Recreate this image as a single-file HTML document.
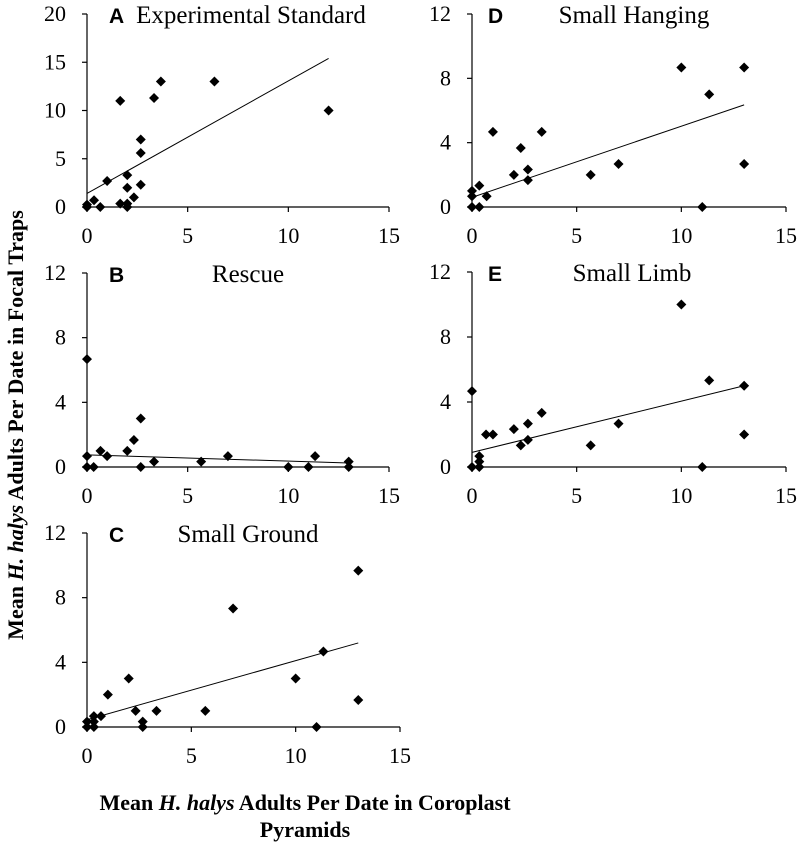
<!DOCTYPE html>
<html><head><meta charset="utf-8"><style>
html,body{margin:0;padding:0;background:#fff;}
svg{display:block;font-family:"Liberation Serif",serif;}
</style></head><body>
<svg id="chart" width="800" height="849" viewBox="0 0 800 849"></svg>
<script>
const panelIds=['A','B','C','D','E'];
const panelTitles=['Experimental Standard','Rescue','Small Ground','Small Hanging','Small Limb'];
const yMaxes=[20,12,12,12,12];
const yTickSets=[[0,5,10,15,20],[0,4,8,12],[0,4,8,12],[0,4,8,12],[0,4,8,12]];
const xTicks=[0,5,10,15];
const aX=[0,0,0.35,0.66,1,1.65,1.65,2,2,2,2,2.33,2.67,2.67,2.67,3.33,3.67,6.33,12];
const aY=[0.25,0,0.7,0,2.7,11,0.35,3.3,2,0.35,0,1,7,5.6,2.3,11.3,13,13,10];
const aFit=[[0,1.4],[12,15.4]];
const bX=[0,0,0,0.33,0.67,1,2,2.33,2.67,2.67,3.33,5.67,7,10,11,11.33,13,13];
const bY=[6.67,0.67,0,0,1,0.67,1,1.67,3,0,0.33,0.33,0.67,0,0,0.67,0.33,0];
const bFit=[[0,0.75],[13,0.25]];
const cX=[0,0,0.33,0.33,0.33,0.67,1,2,2.33,2.67,2.67,3.33,5.67,7,10,11,11.33,13,13];
const cY=[0,0.33,0,0.33,0.67,0.67,2,3,1,0.33,0,1,1,7.33,3,0,4.67,9.67,1.67];
const cFit=[[0,0.45],[13,5.2]];
const dX=[0,0,0,0.35,0.35,0.7,1,2,2.33,2.67,2.67,3.33,5.67,7,10,11,11.33,13,13];
const dY=[0,0.67,1,0,1.33,0.67,4.67,2,3.67,2.33,1.67,4.67,2,2.67,8.67,0,7,8.67,2.67];
const dFit=[[0,0.6],[13,6.35]];
const eX=[0,0,0.35,0.35,0.35,0.67,1,2,2.33,2.67,2.67,3.33,5.67,7,10,11,11.33,13,13];
const eY=[0,4.67,0,0.33,0.67,2,2,2.33,1.33,2.67,1.67,3.33,1.33,2.67,10,0,5.33,5,2];
const eFit=[[0,0.9],[13,5]];

const svg=document.getElementById('chart');
const NS='http://www.w3.org/2000/svg';
function mk(tag,attrs,parent){const e=document.createElementNS(NS,tag);for(const k in attrs)e.setAttribute(k,attrs[k]);parent.appendChild(e);return e;}

const boxes=[
 {x0:87,x1:389,y0:207,y1:14,tc:251},
 {x0:87,x1:389,y0:467,y1:273,tc:248},
 {x0:87,x1:400,y0:727,y1:533,tc:248},
 {x0:472,x1:786,y0:207,y1:14,tc:634},
 {x0:472,x1:786,y0:467,y1:272,tc:632}
];
const xs=[aX,bX,cX,dX,eX], ys=[aY,bY,cY,dY,eY], fits=[aFit,bFit,cFit,dFit,eFit];

panelIds.forEach((id,i)=>{
  const b=boxes[i];
  const sx=v=>b.x0+(b.x1-b.x0)*v/15;
  const sy=v=>b.y0-(b.y0-b.y1)*v/yMaxes[i];
  const g=mk('g',{},svg);
  
  
  const ax=mk('line',{x1:b.x0,y1:b.y1,x2:b.x0,y2:b.y0,stroke:'#000','stroke-width':1.2},g);
  
  
  const ax2=mk('line',{x1:b.x0,y1:b.y0,x2:b.x1,y2:b.y0,stroke:'#000','stroke-width':1.2},g);
  
  
  yTickSets[i].forEach(t=>{
    const y=sy(t);
    mk('line',{x1:b.x0-5,y1:y,x2:b.x0,y2:y,stroke:'#000','stroke-width':1.2},g);
    const tx=mk('text',{x:b.x0-21,y:y+7,'text-anchor':'end','font-size':22,fill:'#000'},g);
    tx.textContent=t;
    
    
  });
  xTicks.forEach(t=>{
    const x=sx(t);
    mk('line',{x1:x,y1:b.y0,x2:x,y2:b.y0+5,stroke:'#000','stroke-width':1.2},g);
    const tx=mk('text',{x:x,y:b.y0+36,'text-anchor':'middle','font-size':22,fill:'#000'},g);
    tx.textContent=t;
    
    
  });
  const f=fits[i];
  const fl=mk('line',{x1:sx(f[0][0]),y1:sy(f[0][1]),x2:sx(f[1][0]),y2:sy(f[1][1]),stroke:'#000','stroke-width':1},g);
  
  
  xs[i].forEach((xv,j)=>{
    const cx=sx(xv), cy=sy(ys[i][j]);
    const p=mk('path',{d:`M${cx},${cy-5}L${cx+5},${cy}L${cx},${cy+5}L${cx-5},${cy}Z`,fill:'#000'},g);
    
    
  });
  const lt=mk('text',{x:b.x0+(i<3?22:16),y:b.y1+9,'font-size':21,'font-weight':'bold','font-family':'Liberation Sans, sans-serif',fill:'#000'},g);
  lt.textContent=id;
  
  
  const tt=mk('text',{x:b.tc,y:b.y1+9,'font-size':25,'text-anchor':'middle',fill:'#000'},g);
  tt.textContent=panelTitles[i];
  
  
});

const yt=document.createElementNS(NS,'text');
yt.setAttribute('transform','translate(23,425) rotate(-90)');
yt.setAttribute('text-anchor','middle');
yt.setAttribute('font-size','22');
yt.setAttribute('font-weight','bold');
yt.innerHTML='Mean <tspan font-style="italic">H. halys</tspan> Adults Per Date in Focal Traps';


svg.appendChild(yt);
const xt=document.createElementNS(NS,'text');
xt.setAttribute('x','305');xt.setAttribute('y','810');
xt.setAttribute('text-anchor','middle');
xt.setAttribute('font-size','22');
xt.setAttribute('font-weight','bold');
xt.innerHTML='Mean <tspan font-style="italic">H. halys</tspan> Adults Per Date in Coroplast';


svg.appendChild(xt);
const xt2=document.createElementNS(NS,'text');
xt2.setAttribute('x','305');xt2.setAttribute('y','837');
xt2.setAttribute('text-anchor','middle');
xt2.setAttribute('font-size','22');
xt2.setAttribute('font-weight','bold');
xt2.textContent='Pyramids';


svg.appendChild(xt2);
</script>
</body></html>
